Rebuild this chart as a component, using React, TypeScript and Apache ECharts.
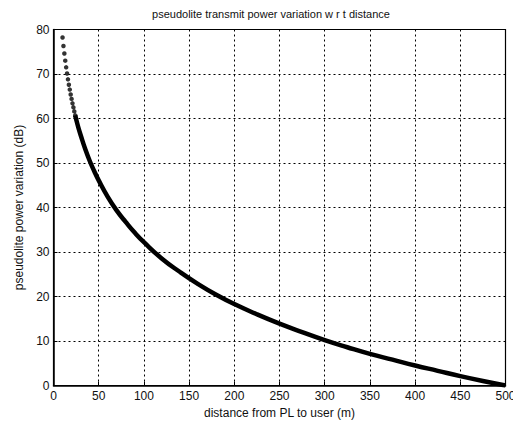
import React, { useEffect, useRef } from "react";
import * as echarts from "echarts";

const titleText = "pseudolite transmit power variation w r t distance";
const xName = "distance from PL to user (m)";
const yName = "pseudolite power variation (dB)";

// sparse start of the curve: individual markers
const dotX = [10, 11, 12, 13, 14, 15, 16, 17, 18, 19, 20, 21, 22, 23, 24];
const dotY = [78.2, 76.3, 74.6, 73.0, 71.5, 70.1, 68.8, 67.6, 66.5, 65.4, 64.4, 63.4, 62.5, 61.6, 60.7];

// dense part of the curve (markers merge into a thick line)
const lineX = [24, 26, 28, 30, 35, 40, 45, 50, 60, 70, 80, 90, 100, 120, 140, 160, 180, 200, 225, 250, 275, 300, 325, 350, 375, 400, 425, 450, 475, 500];
const lineY = [60.7, 59.1, 57.6, 56.3, 53.2, 50.5, 48.2, 46.1, 42.4, 39.3, 36.7, 34.3, 32.2, 28.5, 25.5, 22.8, 20.4, 18.3, 16.0, 13.9, 12.0, 10.2, 8.6, 7.1, 5.8, 4.5, 3.3, 2.1, 1.0, 0];

const FONT = "'Liberation Sans', Arial, sans-serif";

export default function App() {
  const ref = useRef<HTMLDivElement>(null);
  useEffect(() => {
    if (!ref.current) return;
    const chart = echarts.init(ref.current, null, { renderer: "svg" });
    const gridLine = { show: true, lineStyle: { color: "#000", width: 1, type: [2, 3] as any } };
    chart.setOption({
      animation: false,
      backgroundColor: "#fff",
      graphic: [
        {
          type: "text",
          x: 271,
          y: 14,
          style: {
            text: titleText,
            fontSize: 11,
            fontFamily: FONT,
            fill: "#111",
            textAlign: "center",
            textVerticalAlign: "middle",
          },
        },
      ],
      grid: {
        left: 53.5,
        right: 15.5,
        top: 29.5,
        bottom: 42.5,
        show: true,
        borderColor: "#000",
        borderWidth: 1.2,
        backgroundColor: "transparent",
      },
      xAxis: {
        type: "value",
        min: 0,
        max: 500,
        interval: 50,
        name: xName,
        nameLocation: "middle",
        nameGap: 21,
        nameTextStyle: { fontSize: 12, fontFamily: FONT, color: "#111" },
        axisLine: { show: true, lineStyle: { color: "#000", width: 1.5 } },
        axisTick: { show: true, inside: true, length: 4, lineStyle: { color: "#000" } },
        axisLabel: { fontSize: 12, fontFamily: FONT, color: "#111", margin: 4 },
        splitLine: gridLine,
      },
      yAxis: {
        type: "value",
        min: 0,
        max: 80,
        interval: 10,
        name: yName,
        nameLocation: "middle",
        nameGap: 26,
        nameTextStyle: { fontSize: 12, fontFamily: FONT, color: "#111" },
        axisLine: { show: true, lineStyle: { color: "#000", width: 1.5 } },
        axisTick: { show: true, inside: true, length: 4, lineStyle: { color: "#000" } },
        axisLabel: { fontSize: 12, fontFamily: FONT, color: "#111", margin: 4 },
        splitLine: gridLine,
      },
      series: [
        {
          type: "scatter",
          data: dotX.map((x, i) => [x, dotY[i]]),
          symbol: "circle",
          symbolSize: 4.5,
          itemStyle: { color: "#000" },
          silent: true,
        },
        {
          type: "line",
          data: lineX.map((x, i) => [x, lineY[i]]),
          smooth: true,
          showSymbol: false,
          lineStyle: { color: "#000", width: 4.5 },
          silent: true,
        },
      ],
    });
    return () => chart.dispose();
  }, []);
  return <div ref={ref} style={{ width: 521, height: 428, margin: -8 }} />;
}
